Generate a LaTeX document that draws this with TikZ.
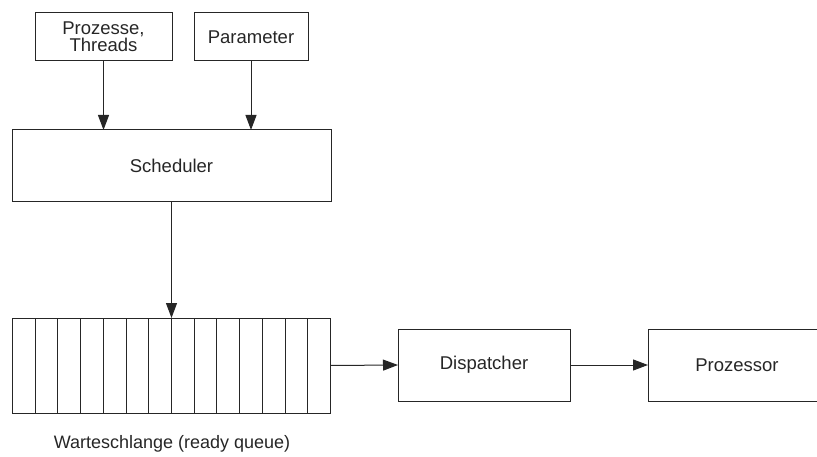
\documentclass[tikz,border=0pt]{standalone}
\usepackage{fontspec}
\setmainfont{Liberation Sans}
\usetikzlibrary{arrows.meta,calc}
\begin{document}
\begin{tikzpicture}[x=1pt,y=-1pt,
  box/.style={draw=black!85,line width=1pt,inner sep=0pt,outer sep=0pt,font=\fontsize{18.5}{20}\selectfont,text=black!85,align=center},
  arr/.style={draw=black!85,line width=1pt,-{Triangle[length=15pt,width=11pt]}}]
\useasboundingbox (0,0) rectangle (817,457);
\node[box,minimum width=137pt,minimum height=48pt] (proc) at (103.5,37) {Prozesse,\\[-3pt]Threads};
\node[box,minimum width=114pt,minimum height=48pt] (param) at (251,37) {Parameter};
\node[box,minimum width=319pt,minimum height=72pt] (sched) at (171.5,166) {Scheduler};
\node[box,minimum width=318pt,minimum height=95pt] (queue) at (171.5,365.5) {};
\foreach \i in {1,...,13}{
  \draw[draw=black!85,line width=1pt] ($(queue.north west)+(\i*318/14,0)$) -- ($(queue.south west)+(\i*318/14,0)$);
}
\node[box,minimum width=172pt,minimum height=72pt] (disp) at (484,365) {Dispatcher};
\node[box,minimum width=190pt,minimum height=72pt] (cpu) at (743,365) {};
\node[font=\fontsize{18.5}{20}\selectfont,text=black!85] (cputxt) at (737,365) {Prozessor};
\node[font=\fontsize{18}{20}\selectfont,text=black!85] (lbl) at (172,444) {Warteschlange (ready queue)};
\draw[arr] (proc.south) -- (proc.south |- sched.north);
\draw[arr] (param.south) -- (param.south |- sched.north);
\draw[arr] (sched.south) -- (queue.north);
\draw[arr] (queue.east) -- (disp.west);
\draw[arr] (disp.east) -- (cpu.west);
\end{tikzpicture}
\end{document}
